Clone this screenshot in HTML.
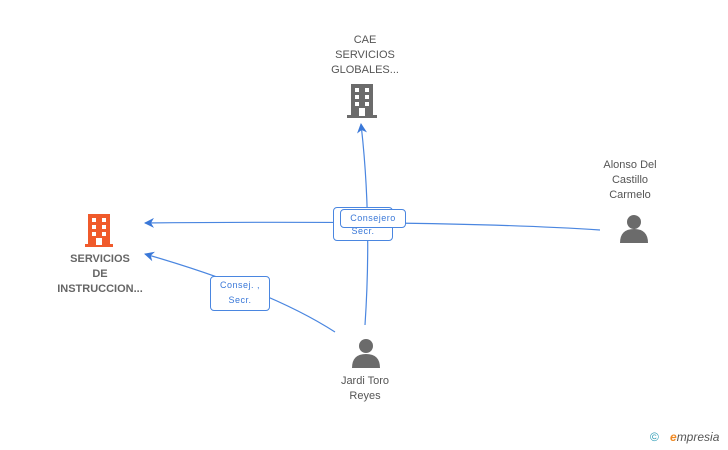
<!DOCTYPE html>
<html><head><style>
body{margin:0;width:728px;height:450px;background:#fff;position:relative;font-family:"Liberation Sans",sans-serif;overflow:hidden}
.t{position:absolute;color:#555;font-size:11px;text-align:center;line-height:15px}
.b{position:absolute;background:#fff;border:1px solid #4a86e0;border-radius:4px;color:#3a78d8;font-size:9px;text-align:center;letter-spacing:0.5px}
</style></head><body>
<svg width="728" height="450" style="position:absolute;left:0;top:0">
<defs><marker id="a" markerWidth="10" markerHeight="10" refX="9" refY="5" orient="auto" markerUnits="userSpaceOnUse"><path d="M0,0 L10,5 L0,10 L3,5 Z" fill="#3a78d8"/></marker></defs>
<g stroke="#4a86e0" stroke-width="1.2" fill="none">
<path d="M600,230 Q450,220 145,223" marker-end="url(#a)"/>
<path d="M365,325 Q372,220 361,124" marker-end="url(#a)"/>
<path d="M335,332 Q270,290 145,254" marker-end="url(#a)"/>
</g>
<g fill="#f05a2b">
<rect x="88" y="214" width="22" height="31"/>
<rect x="85" y="244" width="28" height="3"/>
</g>
<g fill="#fff">
<rect x="92" y="218" width="4" height="4"/><rect x="102" y="218" width="4" height="4"/>
<rect x="92" y="225" width="4" height="4"/><rect x="102" y="225" width="4" height="4"/>
<rect x="92" y="232" width="4" height="4"/><rect x="102" y="232" width="4" height="4"/>
<rect x="96" y="238" width="6" height="7"/>
</g>
<g fill="#6b6b6b">
<rect x="351" y="84" width="22" height="32"/>
<rect x="347" y="115" width="30" height="3"/>
</g>
<g fill="#fff">
<rect x="355" y="88" width="4" height="4"/><rect x="365" y="88" width="4" height="4"/>
<rect x="355" y="95" width="4" height="4"/><rect x="365" y="95" width="4" height="4"/>
<rect x="355" y="102" width="4" height="4"/><rect x="365" y="102" width="4" height="4"/>
<rect x="359" y="108" width="6" height="8"/>
</g>
<g fill="#6b6b6b">
<circle cx="634" cy="222" r="7"/><path d="M620,243 Q620,229 634,229 Q648,229 648,243 Z"/>
<circle cx="366" cy="346" r="7"/><path d="M352,368 Q352,354 366,354 Q380,354 380,368 Z"/>
</g>
</svg>
<div class="t" style="left:300px;top:33px;width:130px">CAE<br>SERVICIOS<br>GLOBALES...</div>
<div class="t" style="left:570px;top:158px;width:120px">Alonso Del<br>Castillo<br>Carmelo</div>
<div class="t" style="left:305px;top:374px;width:120px">Jardi Toro<br>Reyes</div>
<div class="t" style="left:30px;top:252px;width:140px;font-weight:bold;color:#666">SERVICIOS<br>DE<br>INSTRUCCION...</div>
<div class="b" style="left:333px;top:207px;width:58px;height:32px;line-height:12px"><div style="padding-top:17px">Secr.</div></div>
<div class="b" style="left:340px;top:209px;width:64px;height:17px;line-height:17px">Consejero</div>
<div class="b" style="left:210px;top:276px;width:58px;height:32px;line-height:15px;padding-top:1px">Consej. ,<br>Secr.</div>
<div style="position:absolute;left:650px;top:430px;font-size:12px;color:#2a9bb5">©</div>
<div style="position:absolute;left:670px;top:430px;font-size:12px;color:#555;font-style:italic"><span style="color:#f08a24;font-weight:bold">e</span>mpresia</div>
</body></html>
